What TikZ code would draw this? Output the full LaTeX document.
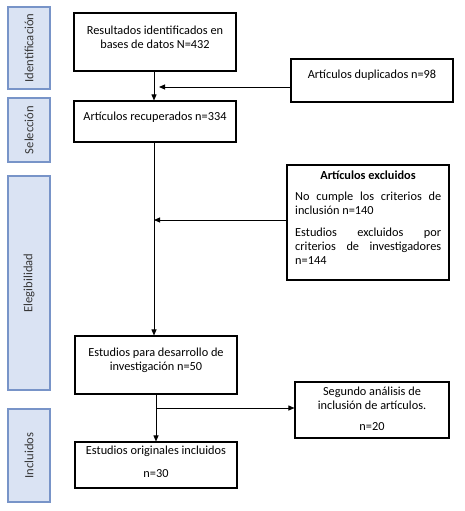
\documentclass[tikz,border=0pt]{standalone}
\usepackage{fontspec}
\setmainfont{Carlito}
\usetikzlibrary{arrows.meta}
\definecolor{sidefill}{RGB}{218,227,243}
\definecolor{sidedraw}{RGB}{120,148,200}
\definecolor{sidetext}{RGB}{55,55,55}
\begin{document}
\begin{tikzpicture}[x=1pt,y=-1pt,
  box/.style={draw=black,line width=1.1pt,rectangle,inner sep=0pt},
  side/.style={draw=sidedraw,fill=sidefill,line width=1.1pt,rectangle,inner sep=0pt},
  txt/.style={font=\fontsize{12.3}{14}\selectfont,inner sep=0pt,align=center},
  sidetxt/.style={font=\fontsize{12.6}{14}\selectfont,text=sidetext,rotate=90,inner sep=0pt},
  arr/.style={line width=0.9pt,-{Triangle[length=6pt,width=5pt]}},
  ln/.style={line width=0.9pt}]
\useasboundingbox (0,0) rectangle (464,511);
% side bars
\node[side,minimum width=42pt,minimum height=82pt] (s1) at (29,48) {};
\node[sidetxt] at (s1.center) {Identificación};
\node[side,minimum width=42pt,minimum height=64pt] (s2) at (29,130) {};
\node[sidetxt] at (s2.center) {Selección};
\node[side,minimum width=42pt,minimum height=214pt] (s3) at (29,283) {};
\node[sidetxt] at (s3.center) {Elegibilidad};
\node[side,minimum width=42pt,minimum height=93pt] (s4) at (29,455.5) {};
\node[sidetxt] at (s4.center) {Incluidos};
% main boxes
\node[box,minimum width=162pt,minimum height=58pt] (b1) at (155,42) {};
\node[txt] at (155,37) {Resultados identificados en\\bases de datos N=432};
\node[box,minimum width=162pt,minimum height=41pt] (b2) at (155,121.5) {};
\node[txt] at (155,117) {Artículos recuperados n=334};
\node[box,minimum width=162pt,minimum height=43pt] (dup) at (372,80.5) {};
\node[txt] at (372,75) {Artículos duplicados n=98};
\node[box,minimum width=162pt,minimum height=115pt] (ex) at (368,222.5) {};
\node[txt,font=\fontsize{12.3}{14}\selectfont\bfseries] at (368,175) {Artículos excluidos};
\node[txt,align=justify,text width=146pt,anchor=north west] at (295,192) {No cumple los criterios de\linebreak inclusión n=140\par\vspace{8pt}Estudios excluidos por\linebreak criterios de investigadores\linebreak n=144};
\node[box,minimum width=162pt,minimum height=58pt] (b3) at (156,365) {};
\node[txt] at (156,360) {Estudios para desarrollo de\\investigación n=50};
\node[box,minimum width=154pt,minimum height=56pt] (seg) at (372,410) {};
\node[txt] at (372,398) {Segundo análisis de\\inclusión de artículos.};
\node[txt] at (372,427) {n=20};
\node[box,minimum width=162pt,minimum height=46pt] (b4) at (156,465) {};
\node[txt] at (156,451) {Estudios originales incluidos};
\node[txt] at (156,474) {n=30};
% connectors
\draw[arr] (b1.south -| 154,0) -- (b2.north -| 154,0);
\coordinate (d1) at (dup.west |- 0,87);
\coordinate (d2) at (159,87);
\draw[arr] (d1) -- (d2);
\draw[arr] (b2.south -| 154,0) -- (b3.north -| 154,0);
\coordinate (e1) at (ex.west |- 0,220);
\coordinate (e2) at (154,220);
\draw[arr] (e1) -- (e2);
\draw[arr] (b3.south -| 156,0) -- (b4.north -| 156,0);
\coordinate (br) at (156,408);
\coordinate (sg) at (seg.west |- 0,408);
\draw[arr] (br) -- (sg);
\end{tikzpicture}
\end{document}
